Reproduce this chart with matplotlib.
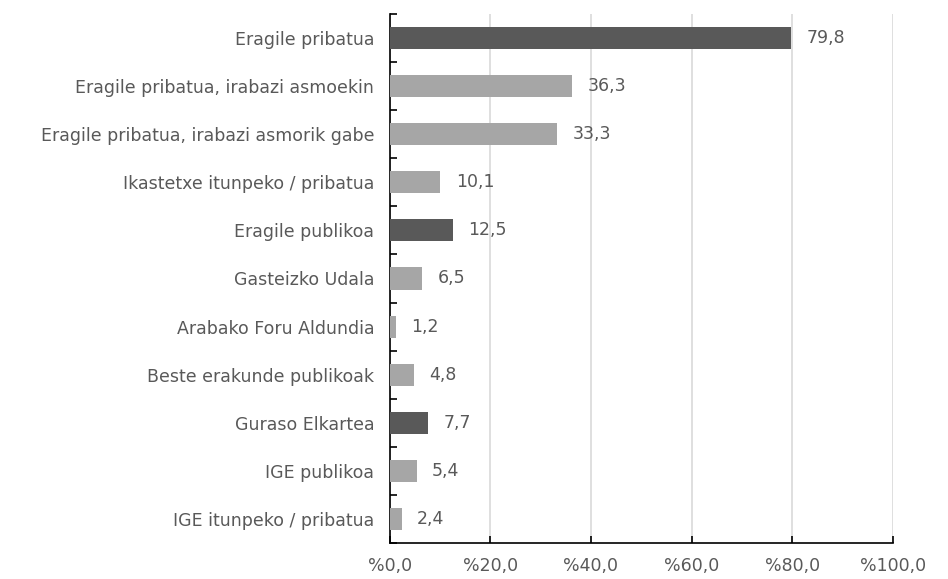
import matplotlib.pyplot as plt
import numpy as np

categories = [
    "Eragile pribatua",
    "Eragile pribatua, irabazi asmoekin",
    "Eragile pribatua, irabazi asmorik gabe",
    "Ikastetxe itunpeko / pribatua",
    "Eragile publikoa",
    "Gasteizko Udala",
    "Arabako Foru Aldundia",
    "Beste erakunde publikoak",
    "Guraso Elkartea",
    "IGE publikoa",
    "IGE itunpeko / pribatua",
]
values = [79.8, 36.3, 33.3, 10.1, 12.5, 6.5, 1.2, 4.8, 7.7, 5.4, 2.4]
is_group = [True, False, False, False, True, False, False, False, True, False, False]
xticks = [0, 20, 40, 60, 80, 100]

dark = "#595959"
light = "#a6a6a6"
txt = "#595959"
fs = 12.5

plt.rcParams['font.family'] = ['DejaVu Sans']

fig = plt.figure(figsize=(9.48, 5.79), dpi=100)
ax = fig.add_axes([0.411, 0.062, 0.531, 0.914])

n = len(categories)
y = np.arange(n)
colors = [dark if g else light for g in is_group]
ax.barh(y, values, height=0.46, color=colors, zorder=3)

for yi, v in zip(y, values):
    ax.annotate(f"{v:.1f}".replace(".", ","), (v, yi), xytext=(11, 0),
                textcoords="offset points", va="center", ha="left",
                fontsize=fs, color=txt)

ax.set_xlim(0, 100)
ax.set_ylim(n - 0.5, -0.5)
ax.set_xticks(xticks)
ax.set_xticklabels([f"%{t:.1f}".replace(".", ",") for t in xticks],
                   fontsize=fs, color=txt)
ax.set_yticks(y)
ax.set_yticklabels(categories, fontsize=fs, color=txt)
ax.tick_params(axis="y", length=0, pad=11)
ax.set_yticks(np.arange(-0.5, n, 1), minor=True)
ax.tick_params(axis="y", which="minor", direction="in", length=5, width=1.2)
ax.tick_params(axis="x", direction="in", length=5, width=1.2, pad=10)

ax.grid(axis="x", color="#d9d9d9", linewidth=1.2, zorder=0)
for s in ["top", "right"]:
    ax.spines[s].set_visible(False)
for s in ["left", "bottom"]:
    ax.spines[s].set_linewidth(1.2)
    ax.spines[s].set_color("black")

fig.savefig("out.png", dpi=100)
